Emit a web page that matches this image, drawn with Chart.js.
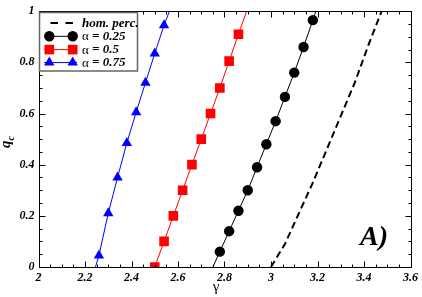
<!DOCTYPE html>
<html>
<head>
<meta charset="utf-8">
<style>
  html, body { margin: 0; padding: 0; background: #fff; }
</style>
<script src="https://cdn.jsdelivr.net/npm/chart.js@4.4.0/dist/chart.umd.min.js"></script>
</head>
<body>
<canvas id="chart" width="422" height="297"></canvas>
<script>
// critical q vs gamma; first/last entries are where a curve leaves the frame
const gammaHom = [3.0, 3.06, 3.12, 3.18, 3.24, 3.30, 3.36, 3.42, 3.476];
const qHom = [0, 0.09, 0.21, 0.33, 0.46, 0.59, 0.72, 0.87, 1.0];

const gamma025 = [2.75, 2.78, 2.82, 2.86, 2.90, 2.94, 2.98, 3.02, 3.06, 3.10, 3.14, 3.18, 3.193];
const q025 = [0, 0.06, 0.14, 0.22, 0.30, 0.39, 0.48, 0.57, 0.665, 0.76, 0.86, 0.965, 1.0];

const gamma05 = [2.50, 2.54, 2.58, 2.62, 2.66, 2.70, 2.74, 2.78, 2.82, 2.86, 2.895];
const q05 = [0, 0.10, 0.20, 0.30, 0.40, 0.50, 0.60, 0.70, 0.805, 0.91, 1.0];

const gamma075 = [2.245, 2.26, 2.30, 2.34, 2.38, 2.42, 2.46, 2.50, 2.54, 2.563];
const q075 = [0, 0.045, 0.21, 0.35, 0.485, 0.605, 0.72, 0.835, 0.945, 1.0];

const seriesNames = ["hom. perc.", "α = 0.25", "α = 0.5", "α = 0.75"];

const SERIF = "'Liberation Serif', 'DejaVu Serif', serif";

const pts = (xs, ys) => xs.map((x, i) => ({ x: x, y: ys[i] }));

// hide marker on the frame-crossing ends
const radiusFn = (r, skipFirst) => (c) => {
  const n = c.dataset.data.length;
  if (c.dataIndex === n - 1) return 0;
  if (skipFirst && c.dataIndex === 0) return 0;
  return r;
};

function marker(ctx, style, x, y, r, color) {
  ctx.fillStyle = color;
  ctx.beginPath();
  if (style === "circle") {
    ctx.arc(x, y, r, 0, Math.PI * 2);
  } else if (style === "rect") {
    const s = r * Math.SQRT1_2;
    ctx.rect(x - s, y - s, 2 * s, 2 * s);
  } else {
    for (let k = 0; k < 3; k++) {
      const a = k * 2 * Math.PI / 3;
      const px = x + Math.sin(a) * r, py = y - Math.cos(a) * r;
      k ? ctx.lineTo(px, py) : ctx.moveTo(px, py);
    }
    ctx.closePath();
  }
  ctx.fill();
}

const decorations = {
  id: "decorations",
  afterDatasetsDraw(chart) {
    const { ctx, chartArea: a, scales: { x, y } } = chart;
    ctx.save();

    // frame + inward ticks
    ctx.strokeStyle = "#000";
    ctx.lineWidth = 1;
    const L = Math.round(a.left) + 0.5, R = Math.round(a.right) + 0.5;
    const T = Math.round(a.top) + 0.5, B = Math.round(a.bottom) + 0.5;
    ctx.strokeRect(L, T, R - L, B - T);
    ctx.beginPath();
    for (let i = 0; i <= 32; i++) {
      const px = Math.round(x.getPixelForValue(2 + i * 0.05)) + 0.5;
      const len = i % 4 === 0 ? 6 : 3;
      ctx.moveTo(px, B); ctx.lineTo(px, B - len);
      ctx.moveTo(px, T); ctx.lineTo(px, T + len);
    }
    for (let i = 0; i <= 20; i++) {
      const py = Math.round(y.getPixelForValue(i * 0.05)) + 0.5;
      const len = i % 4 === 0 ? 6 : 3;
      ctx.moveTo(L, py); ctx.lineTo(L + len, py);
      ctx.moveTo(R, py); ctx.lineTo(R - len, py);
    }
    ctx.stroke();

    // legend
    const bx = 39.5, by = 12.5, bw = 98, bh = 58.5;
    ctx.fillStyle = "#fff";
    ctx.fillRect(bx, by, bw, bh);
    ctx.strokeStyle = "#666";
    ctx.lineWidth = 1.5;
    ctx.strokeRect(bx, by, bw, bh);

    const rows = [23, 36.3, 49.6, 62.6];
    const x0 = 44, x1 = 77, tx = 82;
    chart.data.datasets.forEach((ds, i) => {
      const ry = rows[i];
      ctx.strokeStyle = ds.borderColor;
      ctx.lineWidth = i === 0 ? 2 : 1;
      ctx.setLineDash(i === 0 ? [7.5, 7.5] : []);
      ctx.beginPath();
      ctx.moveTo(i === 0 ? 50.5 : x0, ry);
      ctx.lineTo(i === 0 ? 73 : x1, ry);
      ctx.stroke();
      ctx.setLineDash([]);
      if (i > 0) {
        marker(ctx, ds.pointStyle, 49.3, ry, ds.legendR, ds.borderColor);
        marker(ctx, ds.pointStyle, 72.7, ry, ds.legendR, ds.borderColor);
      }
      ctx.fillStyle = "#000";
      ctx.textBaseline = "middle";
      ctx.textAlign = "left";
      const name = seriesNames[i];
      if (name.startsWith("α")) {
        ctx.font = "13px " + SERIF;
        ctx.fillText("α", tx, ry + 0.5);
        const w = ctx.measureText("α").width;
        ctx.font = "italic bold 13px " + SERIF;
        ctx.fillText(name.slice(1), tx + w, ry + 0.5);
      } else {
        ctx.font = "italic bold 13px " + SERIF;
        ctx.fillText(name, tx, ry + 0.5);
      }
    });

    // panel label
    ctx.fillStyle = "#000";
    ctx.font = "italic bold 28px " + SERIF;
    ctx.textBaseline = "alphabetic";
    ctx.textAlign = "left";
    ctx.fillText("A)", 360, 245);

    // axis titles
    ctx.font = "15px " + SERIF;
    ctx.textAlign = "center";
    ctx.fillText("γ", 216, 291);

    ctx.translate(10, 148);
    ctx.rotate(-Math.PI / 2);
    ctx.textAlign = "left";
    ctx.font = "italic bold 15px " + SERIF;
    ctx.fillText("q", 0, 0);
    const qw = ctx.measureText("q").width;
    ctx.font = "italic bold 10px " + SERIF;
    ctx.fillText("c", qw, 3.5);

    ctx.restore();
  }
};

const tickFont = { family: SERIF, size: 12, style: "italic", weight: "bold" };
const fmt = (v) => String(Number(v.toFixed(2)));

new Chart(document.getElementById("chart"), {
  type: "line",
  data: {
    datasets: [
      {
        label: seriesNames[0],
        data: pts(gammaHom, qHom),
        borderColor: "#000",
        borderWidth: 2,
        borderDash: [7, 4],
        pointRadius: 0,
      },
      {
        label: seriesNames[1],
        data: pts(gamma025, q025),
        borderColor: "#000",
        backgroundColor: "#000",
        borderWidth: 1,
        pointStyle: "circle",
        pointRadius: radiusFn(5.2, true),
        legendR: 5.2,
        pointBorderWidth: 0,
      },
      {
        label: seriesNames[2],
        data: pts(gamma05, q05),
        borderColor: "#ff0000",
        backgroundColor: "#ff0000",
        borderWidth: 1,
        pointStyle: "rect",
        pointRadius: radiusFn(6.8, false),
        legendR: 6.8,
        pointBorderWidth: 0,
      },
      {
        label: seriesNames[3],
        data: pts(gamma075, q075),
        borderColor: "#0000ff",
        backgroundColor: "#0000ff",
        borderWidth: 1,
        pointStyle: "triangle",
        pointRadius: radiusFn(6, true),
        legendR: 6,
        pointBorderWidth: 0,
      },
    ],
  },
  options: {
    responsive: false,
    animation: false,
    layout: { padding: { top: 6, right: 9, left: 0, bottom: 0 } },
    plugins: { legend: { display: false }, tooltip: { enabled: false } },
    scales: {
      x: {
        type: "linear",
        min: 2,
        max: 3.6,
        grid: { display: false, drawTicks: false },
        border: { display: false },
        ticks: { stepSize: 0.2, font: tickFont, color: "#000", padding: 4, maxRotation: 0, callback: fmt },
        afterFit: (s) => { s.height = 30; },
      },
      y: {
        type: "linear",
        min: 0,
        max: 1,
        grid: { display: false, drawTicks: false },
        border: { display: false },
        ticks: { stepSize: 0.2, font: tickFont, color: "#000", padding: 4, callback: fmt },
        afterFit: (s) => { s.width = 38.5; },
      },
    },
  },
  plugins: [decorations],
});
</script>
</body>
</html>
